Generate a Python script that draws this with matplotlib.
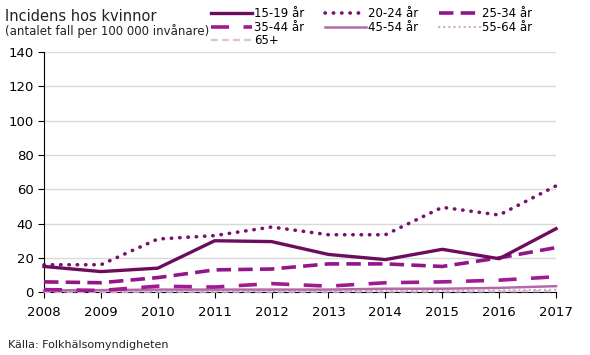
import matplotlib
matplotlib.use("Agg")
import matplotlib.pyplot as plt

# Incidens hos kvinnor per åldersgrupp (antal fall per 100 000 invånare)
years = [2008, 2009, 2010, 2011, 2012, 2013, 2014, 2015, 2016, 2017]
age_15_19 = [15, 12, 14, 30, 29.5, 22, 19, 25, 19.5, 37]
age_20_24 = [16, 16, 31, 33, 38, 33.5, 33.5, 49.5, 45, 62]
age_25_34 = [6, 5.5, 8.5, 13, 13.5, 16.5, 16.5, 15, 20, 26]
age_35_44 = [1.5, 1, 3.5, 3, 5, 3.5, 5.5, 6, 7, 9]
age_45_54 = [1, 1.2, 1.5, 1.5, 1.5, 1.5, 2, 2, 2.5, 3.5]
age_55_64 = [0.3, 0.4, 0.5, 0.5, 0.6, 0.6, 0.8, 0.8, 1, 1.5]
age_65 = [0.2, 0.2, 0.3, 0.3, 0.3, 0.3, 0.4, 0.4, 0.5, 0.6]
labels = ["15-19 år", "20-24 år", "25-34 år", "35-44 år", "45-54 år", "55-64 år", "65+"]

series = [age_15_19, age_20_24, age_25_34, age_35_44, age_45_54, age_55_64, age_65]
colors = ["#6b0d5c", "#7c106f", "#92168a", "#a01a91", "#b26aa9", "#d3a3cb", "#dcc2d6"]
styles = [
    dict(linestyle="-", linewidth=2.4),
    dict(linestyle=(0, (0.1, 2.2)), linewidth=2.6, dash_capstyle="round"),
    dict(linestyle=(0, (4, 2)), linewidth=2.6),
    dict(linestyle=(0, (5, 4)), linewidth=2.6),
    dict(linestyle="-", linewidth=1.8),
    dict(linestyle=(0, (0.1, 2.2)), linewidth=1.6, dash_capstyle="round"),
    dict(linestyle=(0, (3, 2)), linewidth=1.6),
]

fig = plt.figure(figsize=(5.9, 3.55), dpi=100)
ax = fig.add_axes([0.0746, 0.177, 0.8678, 0.676])

handles = []
for vals, col, st, lab in zip(series, colors, styles, labels):
    ln, = ax.plot(years, vals, color=col, label=lab, solid_joinstyle="round",
                  clip_on=False, **st)
    handles.append(ln)
# draw the darker lines on top
for z, ln in enumerate(handles):
    ln.set_zorder(10 - z)

ax.set_xlim(2008, 2017)
ax.set_ylim(0, 140)
ax.set_xticks(years)
ax.set_yticks(range(0, 141, 20))
ax.grid(axis="y", color="#d9d9d9", linewidth=1)
ax.set_axisbelow(True)
for s in ["top", "right"]:
    ax.spines[s].set_visible(False)
ax.spines["left"].set_color("black")
ax.spines["bottom"].set_color("black")
ax.tick_params(axis="both", labelsize=9.5, length=4, direction="out", color="black")
ax.tick_params(axis="x", pad=6)

fig.text(0.008, 0.94, "Incidens hos kvinnor", fontsize=10.5, color="#222222")
fig.text(0.008, 0.9, "(antalet fall per 100 000 invånare)", fontsize=8.5, color="#222222")
fig.text(0.013, 0.02, "Källa: Folkhälsomyndigheten", fontsize=8, color="#222222")

order = [0, 3, 6, 1, 4, 2, 5]
fig.legend([handles[i] for i in order], [labels[i] for i in order], ncol=3,
           loc="upper left", bbox_to_anchor=(0.345, 1.0), frameon=False,
           fontsize=8.5, handlelength=3.5, handletextpad=0.2, columnspacing=1.7,
           labelspacing=0.05, borderaxespad=0.2)

fig.savefig("out.png", dpi=100)
